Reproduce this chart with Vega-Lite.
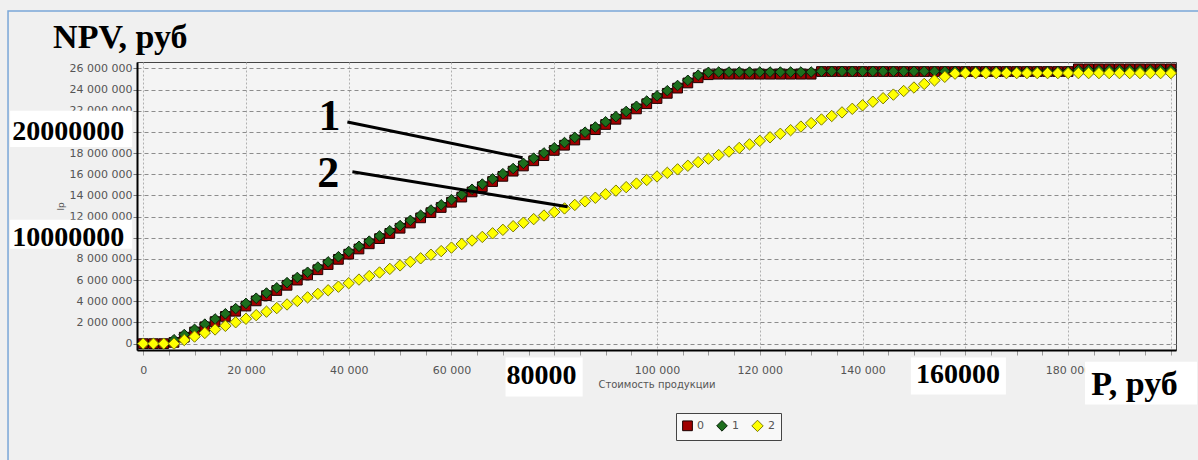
{
  "$schema": "https://vega.github.io/schema/vega-lite/v6.json",
  "width": 1039,
  "height": 288,
  "autosize": {"type": "none"},
  "padding": {"left": 137, "top": 62, "right": 22, "bottom": 110},
  "background": "#f0f0f0",
  "config": {
    "locale": {"number": {"decimal": ".", "thousands": " ", "grouping": [3], "currency": ["", ""]}},
    "view": {"fill": "#f4f4f4", "stroke": "#444444", "strokeWidth": 1},
    "font": "DejaVu Sans",
    "legend": {"orient": "none", "legendX": 539, "legendY": 351, "direction": "horizontal", "strokeColor": "#444444", "fillColor": "#f8f8f8", "padding": 6, "columnPadding": 10, "labelFont": "DejaVu Sans", "labelFontSize": 11, "labelColor": "#555555", "symbolSize": 60, "labelOffset": 4, "symbolStrokeWidth": 1}
  },
  "datasets": {
    "frame": [{"x": -26300, "x2": 260000, "y": 31.42, "y2": -20}],
    "boxes": [
      {"x": -25900, "x2": -2140, "y": 22.0, "y2": 18.58},
      {"x": -25900, "x2": -2140, "y": 11.7, "y2": 8.96},
      {"x": 70520, "x2": 85530, "y": -1.32, "y2": -5.0},
      {"x": 149400, "x2": 167900, "y": -1.32, "y2": -4.81},
      {"x": 183300, "x2": 205100, "y": -1.7, "y2": -5.75}
    ],
    "ylab": [{"x": -3700, "y": 20.0, "t": "20000000"}, {"x": -3700, "y": 10.0, "t": "10000000"}],
    "xlab": [{"x": 77540, "y": -3.02, "t": "80000"}, {"x": 158580, "y": -2.92, "t": "160000"}],
    "units": [{"x": -17530, "y": 27.92, "t": "NPV, руб"}, {"x": 184490, "y": -4.81, "t": "P, руб"}],
    "nums": [{"x": 36240, "y": 20.19, "t": "1"}, {"x": 36040, "y": 14.81, "t": "2"}],
    "pointers": [{"x": 39740, "y": 20.94, "x2": 73840, "y2": 17.55}, {"x": 40720, "y": 16.23, "x2": 82600, "y2": 12.92}],
    "pts": [
      {"s":"0","x":0,"y":0},{"s":"0","x":2000,"y":0},{"s":"0","x":4000,"y":0},{"s":"0","x":6000,"y":0.12},{"s":"0","x":8000,"y":0.61},{"s":"0","x":10000,"y":1.10},{"s":"0","x":12000,"y":1.59},{"s":"0","x":14000,"y":2.08},{"s":"0","x":16000,"y":2.57},{"s":"0","x":18000,"y":3.06},
      {"s":"0","x":20000,"y":3.55},{"s":"0","x":22000,"y":4.04},{"s":"0","x":24000,"y":4.53},{"s":"0","x":26000,"y":5.02},{"s":"0","x":28000,"y":5.51},{"s":"0","x":30000,"y":6.00},{"s":"0","x":32000,"y":6.49},{"s":"0","x":34000,"y":6.98},{"s":"0","x":36000,"y":7.47},{"s":"0","x":38000,"y":7.96},
      {"s":"0","x":40000,"y":8.45},{"s":"0","x":42000,"y":8.94},{"s":"0","x":44000,"y":9.43},{"s":"0","x":46000,"y":9.92},{"s":"0","x":48000,"y":10.41},{"s":"0","x":50000,"y":10.90},{"s":"0","x":52000,"y":11.39},{"s":"0","x":54000,"y":11.88},{"s":"0","x":56000,"y":12.37},{"s":"0","x":58000,"y":12.86},
      {"s":"0","x":60000,"y":13.35},{"s":"0","x":62000,"y":13.84},{"s":"0","x":64000,"y":14.33},{"s":"0","x":66000,"y":14.82},{"s":"0","x":68000,"y":15.31},{"s":"0","x":70000,"y":15.80},{"s":"0","x":72000,"y":16.29},{"s":"0","x":74000,"y":16.78},{"s":"0","x":76000,"y":17.27},{"s":"0","x":78000,"y":17.76},
      {"s":"0","x":80000,"y":18.25},{"s":"0","x":82000,"y":18.74},{"s":"0","x":84000,"y":19.23},{"s":"0","x":86000,"y":19.72},{"s":"0","x":88000,"y":20.21},{"s":"0","x":90000,"y":20.70},{"s":"0","x":92000,"y":21.19},{"s":"0","x":94000,"y":21.68},{"s":"0","x":96000,"y":22.17},{"s":"0","x":98000,"y":22.66},
      {"s":"0","x":100000,"y":23.15},{"s":"0","x":102000,"y":23.64},{"s":"0","x":104000,"y":24.13},{"s":"0","x":106000,"y":24.62},{"s":"0","x":108000,"y":25.11},{"s":"0","x":110000,"y":25.40},{"s":"0","x":112000,"y":25.45},{"s":"0","x":114000,"y":25.45},{"s":"0","x":116000,"y":25.45},{"s":"0","x":118000,"y":25.45},
      {"s":"0","x":120000,"y":25.45},{"s":"0","x":122000,"y":25.45},{"s":"0","x":124000,"y":25.45},{"s":"0","x":126000,"y":25.45},{"s":"0","x":128000,"y":25.45},{"s":"0","x":130000,"y":25.45},{"s":"0","x":132000,"y":25.7},{"s":"0","x":134000,"y":25.7},{"s":"0","x":136000,"y":25.7},{"s":"0","x":138000,"y":25.7},
      {"s":"0","x":140000,"y":25.7},{"s":"0","x":142000,"y":25.7},{"s":"0","x":144000,"y":25.7},{"s":"0","x":146000,"y":25.7},{"s":"0","x":148000,"y":25.7},{"s":"0","x":150000,"y":25.7},{"s":"0","x":152000,"y":25.7},{"s":"0","x":154000,"y":25.7},{"s":"0","x":156000,"y":25.7},{"s":"0","x":158000,"y":25.7},
      {"s":"0","x":160000,"y":25.7},{"s":"0","x":162000,"y":25.7},{"s":"0","x":164000,"y":25.7},{"s":"0","x":166000,"y":25.7},{"s":"0","x":168000,"y":25.7},{"s":"0","x":170000,"y":25.7},{"s":"0","x":172000,"y":25.7},{"s":"0","x":174000,"y":25.7},{"s":"0","x":176000,"y":25.7},{"s":"0","x":178000,"y":25.7},
      {"s":"0","x":180000,"y":25.7},{"s":"0","x":182000,"y":25.95},{"s":"0","x":184000,"y":25.95},{"s":"0","x":186000,"y":25.95},{"s":"0","x":188000,"y":25.95},{"s":"0","x":190000,"y":25.95},{"s":"0","x":192000,"y":25.95},{"s":"0","x":194000,"y":25.95},{"s":"0","x":196000,"y":25.95},{"s":"0","x":198000,"y":25.95},
      {"s":"0","x":200000,"y":25.95},
      {"s":"1","x":0,"y":0},{"s":"1","x":2000,"y":0},{"s":"1","x":4000,"y":0},{"s":"1","x":6000,"y":0.37},{"s":"1","x":8000,"y":0.86},{"s":"1","x":10000,"y":1.35},{"s":"1","x":12000,"y":1.84},{"s":"1","x":14000,"y":2.33},{"s":"1","x":16000,"y":2.82},{"s":"1","x":18000,"y":3.31},
      {"s":"1","x":20000,"y":3.80},{"s":"1","x":22000,"y":4.29},{"s":"1","x":24000,"y":4.78},{"s":"1","x":26000,"y":5.27},{"s":"1","x":28000,"y":5.76},{"s":"1","x":30000,"y":6.25},{"s":"1","x":32000,"y":6.74},{"s":"1","x":34000,"y":7.23},{"s":"1","x":36000,"y":7.72},{"s":"1","x":38000,"y":8.21},
      {"s":"1","x":40000,"y":8.70},{"s":"1","x":42000,"y":9.19},{"s":"1","x":44000,"y":9.68},{"s":"1","x":46000,"y":10.17},{"s":"1","x":48000,"y":10.66},{"s":"1","x":50000,"y":11.15},{"s":"1","x":52000,"y":11.64},{"s":"1","x":54000,"y":12.13},{"s":"1","x":56000,"y":12.62},{"s":"1","x":58000,"y":13.11},
      {"s":"1","x":60000,"y":13.60},{"s":"1","x":62000,"y":14.09},{"s":"1","x":64000,"y":14.58},{"s":"1","x":66000,"y":15.07},{"s":"1","x":68000,"y":15.56},{"s":"1","x":70000,"y":16.05},{"s":"1","x":72000,"y":16.54},{"s":"1","x":74000,"y":17.03},{"s":"1","x":76000,"y":17.52},{"s":"1","x":78000,"y":18.01},
      {"s":"1","x":80000,"y":18.50},{"s":"1","x":82000,"y":18.99},{"s":"1","x":84000,"y":19.48},{"s":"1","x":86000,"y":19.97},{"s":"1","x":88000,"y":20.46},{"s":"1","x":90000,"y":20.95},{"s":"1","x":92000,"y":21.44},{"s":"1","x":94000,"y":21.93},{"s":"1","x":96000,"y":22.42},{"s":"1","x":98000,"y":22.91},
      {"s":"1","x":100000,"y":23.40},{"s":"1","x":102000,"y":23.89},{"s":"1","x":104000,"y":24.38},{"s":"1","x":106000,"y":24.87},{"s":"1","x":108000,"y":25.36},{"s":"1","x":110000,"y":25.62},{"s":"1","x":112000,"y":25.65},{"s":"1","x":114000,"y":25.65},{"s":"1","x":116000,"y":25.65},{"s":"1","x":118000,"y":25.65},
      {"s":"1","x":120000,"y":25.65},{"s":"1","x":122000,"y":25.65},{"s":"1","x":124000,"y":25.65},{"s":"1","x":126000,"y":25.65},{"s":"1","x":128000,"y":25.65},{"s":"1","x":130000,"y":25.65},{"s":"1","x":132000,"y":25.72},{"s":"1","x":134000,"y":25.72},{"s":"1","x":136000,"y":25.72},{"s":"1","x":138000,"y":25.72},
      {"s":"1","x":140000,"y":25.72},{"s":"1","x":142000,"y":25.72},{"s":"1","x":144000,"y":25.72},{"s":"1","x":146000,"y":25.72},{"s":"1","x":148000,"y":25.72},{"s":"1","x":150000,"y":25.72},{"s":"1","x":152000,"y":25.72},{"s":"1","x":154000,"y":25.72},{"s":"1","x":156000,"y":25.72},{"s":"1","x":158000,"y":25.72},
      {"s":"1","x":160000,"y":25.72},{"s":"1","x":162000,"y":25.72},{"s":"1","x":164000,"y":25.72},{"s":"1","x":166000,"y":25.72},{"s":"1","x":168000,"y":25.72},{"s":"1","x":170000,"y":25.72},{"s":"1","x":172000,"y":25.72},{"s":"1","x":174000,"y":25.72},{"s":"1","x":176000,"y":25.72},{"s":"1","x":178000,"y":25.72},
      {"s":"1","x":180000,"y":25.72},{"s":"1","x":182000,"y":25.85},{"s":"1","x":184000,"y":25.85},{"s":"1","x":186000,"y":25.85},{"s":"1","x":188000,"y":25.85},{"s":"1","x":190000,"y":25.85},{"s":"1","x":192000,"y":25.85},{"s":"1","x":194000,"y":25.85},{"s":"1","x":196000,"y":25.85},{"s":"1","x":198000,"y":25.85},
      {"s":"1","x":200000,"y":25.85},
      {"s":"2","x":0,"y":0},{"s":"2","x":2000,"y":0},{"s":"2","x":4000,"y":0},{"s":"2","x":6000,"y":0},{"s":"2","x":8000,"y":0.34},{"s":"2","x":10000,"y":0.67},{"s":"2","x":12000,"y":1.01},{"s":"2","x":14000,"y":1.34},{"s":"2","x":16000,"y":1.68},{"s":"2","x":18000,"y":2.02},
      {"s":"2","x":20000,"y":2.35},{"s":"2","x":22000,"y":2.69},{"s":"2","x":24000,"y":3.02},{"s":"2","x":26000,"y":3.36},{"s":"2","x":28000,"y":3.70},{"s":"2","x":30000,"y":4.03},{"s":"2","x":32000,"y":4.37},{"s":"2","x":34000,"y":4.70},{"s":"2","x":36000,"y":5.04},{"s":"2","x":38000,"y":5.38},
      {"s":"2","x":40000,"y":5.71},{"s":"2","x":42000,"y":6.05},{"s":"2","x":44000,"y":6.38},{"s":"2","x":46000,"y":6.72},{"s":"2","x":48000,"y":7.06},{"s":"2","x":50000,"y":7.39},{"s":"2","x":52000,"y":7.73},{"s":"2","x":54000,"y":8.06},{"s":"2","x":56000,"y":8.40},{"s":"2","x":58000,"y":8.74},
      {"s":"2","x":60000,"y":9.07},{"s":"2","x":62000,"y":9.41},{"s":"2","x":64000,"y":9.74},{"s":"2","x":66000,"y":10.08},{"s":"2","x":68000,"y":10.42},{"s":"2","x":70000,"y":10.75},{"s":"2","x":72000,"y":11.09},{"s":"2","x":74000,"y":11.42},{"s":"2","x":76000,"y":11.76},{"s":"2","x":78000,"y":12.10},
      {"s":"2","x":80000,"y":12.43},{"s":"2","x":82000,"y":12.77},{"s":"2","x":84000,"y":13.10},{"s":"2","x":86000,"y":13.44},{"s":"2","x":88000,"y":13.78},{"s":"2","x":90000,"y":14.11},{"s":"2","x":92000,"y":14.45},{"s":"2","x":94000,"y":14.78},{"s":"2","x":96000,"y":15.12},{"s":"2","x":98000,"y":15.46},
      {"s":"2","x":100000,"y":15.79},{"s":"2","x":102000,"y":16.13},{"s":"2","x":104000,"y":16.46},{"s":"2","x":106000,"y":16.80},{"s":"2","x":108000,"y":17.14},{"s":"2","x":110000,"y":17.47},{"s":"2","x":112000,"y":17.81},{"s":"2","x":114000,"y":18.14},{"s":"2","x":116000,"y":18.48},{"s":"2","x":118000,"y":18.82},
      {"s":"2","x":120000,"y":19.15},{"s":"2","x":122000,"y":19.49},{"s":"2","x":124000,"y":19.82},{"s":"2","x":126000,"y":20.16},{"s":"2","x":128000,"y":20.50},{"s":"2","x":130000,"y":20.83},{"s":"2","x":132000,"y":21.17},{"s":"2","x":134000,"y":21.50},{"s":"2","x":136000,"y":21.84},{"s":"2","x":138000,"y":22.18},
      {"s":"2","x":140000,"y":22.51},{"s":"2","x":142000,"y":22.85},{"s":"2","x":144000,"y":23.18},{"s":"2","x":146000,"y":23.52},{"s":"2","x":148000,"y":23.86},{"s":"2","x":150000,"y":24.19},{"s":"2","x":152000,"y":24.53},{"s":"2","x":154000,"y":24.86},{"s":"2","x":156000,"y":25.20},{"s":"2","x":158000,"y":25.50},
      {"s":"2","x":160000,"y":25.55},{"s":"2","x":162000,"y":25.55},{"s":"2","x":164000,"y":25.55},{"s":"2","x":166000,"y":25.55},{"s":"2","x":168000,"y":25.55},{"s":"2","x":170000,"y":25.55},{"s":"2","x":172000,"y":25.55},{"s":"2","x":174000,"y":25.55},{"s":"2","x":176000,"y":25.55},{"s":"2","x":178000,"y":25.55},
      {"s":"2","x":180000,"y":25.55},{"s":"2","x":182000,"y":25.55},{"s":"2","x":184000,"y":25.55},{"s":"2","x":186000,"y":25.55},{"s":"2","x":188000,"y":25.55},{"s":"2","x":190000,"y":25.55},{"s":"2","x":192000,"y":25.55},{"s":"2","x":194000,"y":25.55},{"s":"2","x":196000,"y":25.55},{"s":"2","x":198000,"y":25.55},
      {"s":"2","x":200000,"y":25.55}
    ]
  },
  "encoding": {
    "x": {
      "field": "x", "type": "quantitative",
      "scale": {"domain": [-1200, 201000], "nice": false, "zero": false},
      "axis": {
        "values": [0,5000,10000,15000,20000,25000,30000,35000,40000,45000,50000,55000,60000,65000,70000,75000,80000,85000,90000,95000,100000,105000,110000,115000,120000,125000,130000,135000,140000,145000,150000,155000,160000,165000,170000,175000,180000,185000,190000,195000,200000],
        "labelExpr": "(datum.value % 20000 == 0 && datum.value != 80000 && datum.value != 160000 && datum.value != 200000) ? format(datum.value, ',') : ''",
        "title": "Стоимость продукции",
        "titleFont": "DejaVu Sans", "titleFontSize": 10, "titleFontWeight": "normal", "titleColor": "#555555", "titlePadding": 4,
        "labelFont": "DejaVu Sans", "labelFontSize": 11, "labelColor": "#555555", "labelPadding": 9, "labelFlush": false, "labelOverlap": false,
        "tickSize": 5, "tickColor": "#999999",
        "domainColor": "#000000", "domainWidth": 2,
        "grid": true,
        "gridColor": {"condition": {"test": "datum.value % 20000 == 0", "value": "#b0b0b0"}, "value": "transparent"},
        "gridDash": [2, 2]
      }
    },
    "y": {
      "field": "y", "type": "quantitative",
      "scale": {"domain": [-0.6, 26.6], "nice": false, "zero": false},
      "axis": {
        "values": [0,2,4,6,8,10,12,14,16,18,20,22,24,26],
        "labelExpr": "(datum.value == 10 || datum.value == 20) ? '' : format(datum.value * 1000000, ',')",
        "title": "lp",
        "titleFont": "DejaVu Sans", "titleFontSize": 9, "titleFontWeight": "normal", "titleColor": "#555555",
        "labelFont": "DejaVu Sans", "labelFontSize": 11, "labelColor": "#555555", "labelPadding": 1, "labelFlush": false, "labelOverlap": false,
        "tickSize": 4, "tickColor": "#777777",
        "domainColor": "#000000", "domainWidth": 2,
        "grid": true, "gridColor": "#8c8c8c", "gridDash": [4, 3]
      }
    }
  },
  "layer": [
    {
      "data": {"name": "frame"},
      "mark": {"type": "rect", "fill": null, "fillOpacity": 0, "stroke": "#7aa7d8", "strokeWidth": 1.5, "clip": false},
      "encoding": {"x2": {"field": "x2"}, "y2": {"field": "y2"}}
    },
    {
      "data": {"name": "pts"},
      "mark": {"type": "point", "filled": true, "opacity": 1, "strokeWidth": 1},
      "encoding": {
        "color": {"field": "s", "type": "nominal", "scale": {"domain": ["0", "1", "2"], "range": ["#a00000", "#1d6e1d", "#ffff00"]}, "legend": {"title": null}},
        "shape": {"field": "s", "type": "nominal", "scale": {"domain": ["0", "1", "2"], "range": ["square", "diamond", "diamond"]}, "legend": {"title": null}},
        "stroke": {"field": "s", "type": "nominal", "scale": {"domain": ["0", "1", "2"], "range": ["#1a0000", "#082008", "#7a7a00"]}, "legend": {"title": null}},
        "size": {"field": "s", "type": "nominal", "scale": {"domain": ["0", "1", "2"], "range": [95, 130, 115]}, "legend": null}
      }
    },
    {
      "data": {"name": "boxes"},
      "mark": {"type": "rect", "fill": "#ffffff", "clip": false},
      "encoding": {"x2": {"field": "x2"}, "y2": {"field": "y2"}}
    },
    {
      "data": {"name": "ylab"},
      "mark": {"type": "text", "font": "Liberation Serif", "fontWeight": "bold", "fontSize": 28, "align": "right", "baseline": "middle", "color": "#000000"},
      "encoding": {"text": {"field": "t"}}
    },
    {
      "data": {"name": "xlab"},
      "mark": {"type": "text", "font": "Liberation Serif", "fontWeight": "bold", "fontSize": 28, "align": "center", "baseline": "middle", "color": "#000000"},
      "encoding": {"text": {"field": "t"}}
    },
    {
      "data": {"name": "units"},
      "mark": {"type": "text", "font": "Liberation Serif", "fontWeight": "bold", "fontSize": 34, "align": "left", "baseline": "alphabetic", "color": "#000000"},
      "encoding": {"text": {"field": "t"}}
    },
    {
      "data": {"name": "nums"},
      "mark": {"type": "text", "font": "Liberation Serif", "fontWeight": "bold", "fontSize": 44, "align": "center", "baseline": "alphabetic", "color": "#000000"},
      "encoding": {"text": {"field": "t"}}
    },
    {
      "data": {"name": "pointers"},
      "mark": {"type": "rule", "color": "#000000", "strokeWidth": 3},
      "encoding": {"x2": {"field": "x2"}, "y2": {"field": "y2"}}
    }
  ]
}
